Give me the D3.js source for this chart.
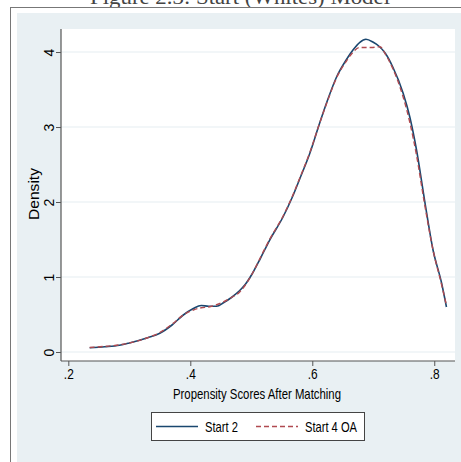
<!DOCTYPE html>
<html>
<head>
<meta charset="utf-8">
<script src="https://cdn.jsdelivr.net/npm/d3@7"></script>
<style>
  body { margin: 0; background: #fff; }
  text { font-family: "Liberation Sans", Arial, sans-serif; fill: #000; }
</style>
</head>
<body>
<div id="chart"></div>
<script>
// propensity score grid and kernel density estimates
const start2X = [0.235, 0.26, 0.284, 0.30, 0.33, 0.35, 0.37, 0.388, 0.405, 0.418, 0.43, 0.443, 0.455, 0.468, 0.481, 0.49, 0.502, 0.515, 0.53, 0.552, 0.567, 0.58, 0.596, 0.612, 0.626, 0.64, 0.656, 0.667, 0.678, 0.688, 0.70, 0.709, 0.72, 0.732, 0.749, 0.76, 0.771, 0.784, 0.798, 0.812, 0.82];
const start2Y = [0.057, 0.07, 0.09, 0.12, 0.19, 0.25, 0.36, 0.49, 0.58, 0.62, 0.61, 0.61, 0.66, 0.73, 0.82, 0.90, 1.05, 1.25, 1.49, 1.80, 2.06, 2.32, 2.65, 3.05, 3.38, 3.67, 3.90, 4.03, 4.13, 4.17, 4.13, 4.08, 3.98, 3.80, 3.45, 3.13, 2.69, 2.03, 1.36, 0.92, 0.60];

const start4X = [0.235, 0.26, 0.284, 0.30, 0.33, 0.35, 0.37, 0.388, 0.405, 0.418, 0.43, 0.443, 0.455, 0.468, 0.481, 0.49, 0.502, 0.515, 0.53, 0.552, 0.567, 0.58, 0.596, 0.612, 0.626, 0.64, 0.656, 0.667, 0.677, 0.688, 0.697, 0.711, 0.72, 0.732, 0.749, 0.76, 0.771, 0.784, 0.798, 0.812, 0.82];
const start4Y = [0.06, 0.075, 0.095, 0.12, 0.19, 0.26, 0.37, 0.49, 0.56, 0.59, 0.60, 0.63, 0.67, 0.73, 0.80, 0.89, 1.05, 1.26, 1.50, 1.81, 2.07, 2.33, 2.66, 3.05, 3.37, 3.66, 3.88, 4.00, 4.06, 4.06, 4.06, 4.07, 3.97, 3.78, 3.40, 3.06, 2.62, 1.98, 1.36, 0.90, 0.62];

const xTicks = [0.2, 0.4, 0.6, 0.8];
const yTicks = [0, 1, 2, 3, 4];
const seriesNames = ["Start 2", "Start 4 OA"];
const titleText = "Figure 2.3: Start (Whites) Model";

const width = 461;
const height = 462;
const plot = { left: 61, right: 455, top: 29, bottom: 361 };

const svg = d3.select("#chart")
  .append("svg")
  .attr("width", width)
  .attr("height", height);

// caption, cut off by the top edge as in the source image
svg.append("text")
  .attr("x", 240)
  .attr("y", 4)
  .attr("text-anchor", "middle")
  .attr("textLength", 300)
  .attr("lengthAdjust", "spacingAndGlyphs")
  .style("font-family", "'Liberation Serif', serif")
  .style("font-size", "20px")
  .style("fill", "#444")
  .text(titleText);

// outer frame and graph region
svg.append("rect")
  .attr("x", 10.5).attr("y", 7.5)
  .attr("width", 470).attr("height", 470)
  .attr("fill", "#fff")
  .attr("stroke", "#777");

svg.append("rect")
  .attr("x", 17).attr("y", 13)
  .attr("width", 460).attr("height", 460)
  .attr("fill", "#e9f0f3");

svg.append("rect")
  .attr("x", plot.left).attr("y", plot.top)
  .attr("width", plot.right - plot.left).attr("height", plot.bottom - plot.top)
  .attr("fill", "#fff");

const x = d3.scaleLinear().domain([0.188, 0.834]).range([plot.left, plot.right]);
const y = d3.scaleLinear().domain([-0.12, 4.307]).range([plot.bottom, plot.top]);

// gridlines
svg.append("g")
  .selectAll("line")
  .data(yTicks)
  .join("line")
  .attr("x1", plot.left).attr("x2", plot.right)
  .attr("y1", d => y(d)).attr("y2", d => y(d))
  .attr("stroke", "#e6eef1")
  .attr("stroke-width", 1.2);

// axes
const xAxis = svg.append("g")
  .attr("transform", `translate(0,${plot.bottom})`)
  .call(d3.axisBottom(x).tickValues(xTicks).tickSize(5).tickPadding(3)
    .tickFormat(d => d3.format(".1f")(d).replace(/^0/, "")));

const yAxis = svg.append("g")
  .attr("transform", `translate(${plot.left},0)`)
  .call(d3.axisLeft(y).tickValues(yTicks).tickSize(5).tickFormat(d3.format("d")));

[xAxis, yAxis].forEach(a => {
  a.select(".domain").attr("stroke", "#555").attr("stroke-width", 1.2);
  a.selectAll(".tick line").attr("stroke", "#555");
  a.selectAll(".tick text")
    .style("font-size", "14px")
    .attr("fill", "#000");
});

// make domain span the whole plot region
xAxis.select(".domain").attr("d", `M${plot.left},0H${plot.right}`);
yAxis.select(".domain").attr("d", `M0,${plot.top}V${plot.bottom}`);

xAxis.selectAll(".tick text").attr("transform", "scale(0.85,1)");

yAxis.selectAll(".tick text")
  .attr("x", null).attr("dy", null)
  .attr("text-anchor", "middle")
  .attr("transform", "translate(-7,0) rotate(-90)");

// axis titles
svg.append("text")
  .attr("x", 257)
  .attr("y", 399)
  .attr("text-anchor", "middle")
  .attr("textLength", 168)
  .attr("lengthAdjust", "spacingAndGlyphs")
  .style("font-size", "15px")
  .text("Propensity Scores After Matching");

svg.append("text")
  .attr("transform", "translate(39,194) rotate(-90)")
  .attr("text-anchor", "middle")
  .attr("textLength", 52)
  .attr("lengthAdjust", "spacingAndGlyphs")
  .style("font-size", "15px")
  .text("Density");

// density curves
const line = d3.line()
  .x(d => x(d[0]))
  .y(d => y(d[1]))
  .curve(d3.curveMonotoneX);

svg.append("path")
  .datum(d3.zip(start2X, start2Y))
  .attr("fill", "none")
  .attr("stroke", "#1a476f")
  .attr("stroke-width", 1.6)
  .attr("d", line);

svg.append("path")
  .datum(d3.zip(start4X, start4Y))
  .attr("fill", "none")
  .attr("stroke", "#b04a50")
  .attr("stroke-width", 1.4)
  .attr("stroke-dasharray", "5,3")
  .attr("d", line);

// legend
const legend = svg.append("g");
legend.append("rect")
  .attr("x", 151.5).attr("y", 412.5)
  .attr("width", 213).attr("height", 28)
  .attr("fill", "#fff")
  .attr("stroke", "#444");

legend.append("line")
  .attr("x1", 156).attr("x2", 198).attr("y1", 426.5).attr("y2", 426.5)
  .attr("stroke", "#1a476f").attr("stroke-width", 1.6);
legend.append("text")
  .attr("x", 205).attr("y", 432)
  .attr("textLength", 33)
  .attr("lengthAdjust", "spacingAndGlyphs")
  .style("font-size", "15px")
  .text(seriesNames[0]);

legend.append("line")
  .attr("x1", 256).attr("x2", 298).attr("y1", 426.5).attr("y2", 426.5)
  .attr("stroke", "#b04a50").attr("stroke-width", 1.4)
  .attr("stroke-dasharray", "5,3");
legend.append("text")
  .attr("x", 305).attr("y", 432)
  .attr("textLength", 52)
  .attr("lengthAdjust", "spacingAndGlyphs")
  .style("font-size", "15px")
  .text(seriesNames[1]);
</script>
</body>
</html>
